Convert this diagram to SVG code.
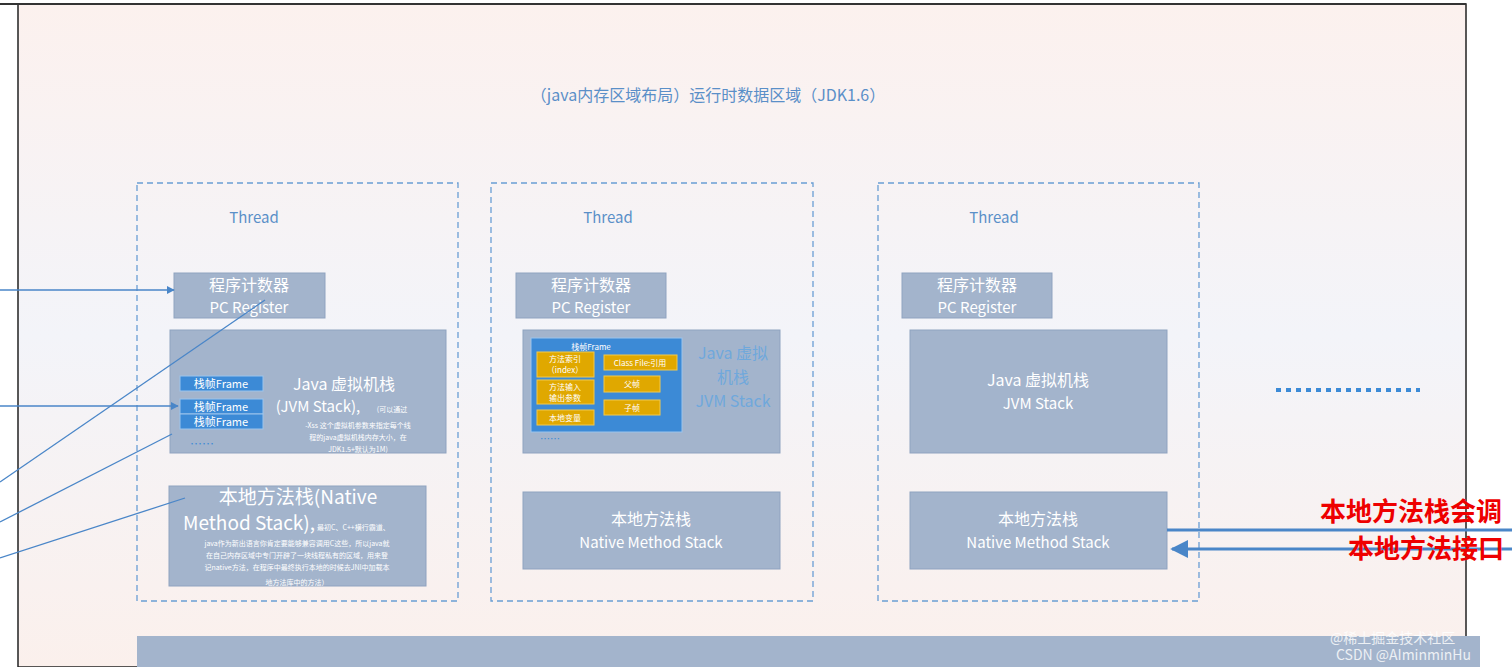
<svg xmlns="http://www.w3.org/2000/svg" width="1512" height="667" viewBox="0 0 1512 667">
<defs>
<linearGradient id="bg" x1="0" y1="0" x2="0" y2="1"><stop offset="0" stop-color="#fcf1ee"/><stop offset="0.5" stop-color="#f3f4f9"/><stop offset="1" stop-color="#fbf0ec"/></linearGradient>
<marker id="ah" viewBox="0 0 10 10" refX="9" refY="5" markerWidth="6" markerHeight="6" orient="auto"><path d="M0,0 L10,5 L0,10 z" fill="#4a86c8"/></marker>
<style>
.t{font-family:"Noto Sans CJK SC","Open Sans",sans-serif}
.thread{fill:none;stroke:#6a9ed4;stroke-width:1.3;stroke-dasharray:6,4}
.box{fill:#a3b4cc;stroke:#8fa3c0}
.w{fill:#fff}
.frm{fill:#3c8ad6;stroke:#9cc4ec}
.org{fill:#e0a800;stroke:#f2c94c}
.ln{stroke:#4a86c8;stroke-width:1.3;fill:none}
</style>
</defs>
<rect x="18" y="4" width="1448" height="663" fill="url(#bg)" stroke="#222" stroke-width="1.5"/>
<line x1="0" y1="4" x2="1466" y2="4" stroke="#333" stroke-width="2"/>
<text class="t" x="708" y="101" font-size="16" fill="#5a8fc8" text-anchor="middle">（java内存区域布局）运行时数据区域（JDK1.6）</text>
<g id="thread1">
<rect class="thread" x="137" y="183" width="321" height="418"/>
<text class="t" x="254" y="223" font-size="15" fill="#5a8fc8" text-anchor="middle">Thread</text>
</g>
<g id="thread2">
<rect class="thread" x="491" y="183" width="322" height="418"/>
<text class="t" x="608" y="223" font-size="15" fill="#5a8fc8" text-anchor="middle">Thread</text>
</g>
<g id="thread3">
<rect class="thread" x="878" y="183" width="321" height="418"/>
<text class="t" x="994" y="223" font-size="15" fill="#5a8fc8" text-anchor="middle">Thread</text>
</g>
<g id="pc1"><rect class="box" x="174" y="273" width="151" height="45"/>
<text class="t w" x="249" y="291" font-size="16" text-anchor="middle">程序计数器</text><text class="t w" x="249" y="313" font-size="15" text-anchor="middle">PC Register</text></g>
<g id="pc2"><rect class="box" x="516" y="273" width="150" height="45"/>
<text class="t w" x="591" y="291" font-size="16" text-anchor="middle">程序计数器</text><text class="t w" x="591" y="313" font-size="15" text-anchor="middle">PC Register</text></g>
<g id="pc3"><rect class="box" x="902" y="273" width="150" height="45"/>
<text class="t w" x="977" y="291" font-size="16" text-anchor="middle">程序计数器</text><text class="t w" x="977" y="313" font-size="15" text-anchor="middle">PC Register</text></g>
<g id="jvm1"><rect class="box" x="170" y="330" width="276" height="123"/>
<rect class="frm" x="180" y="376" width="83" height="15"/><text class="t w" x="221" y="388" font-size="11" text-anchor="middle">栈帧Frame</text>
<rect class="frm" x="180" y="399" width="83" height="15"/><text class="t w" x="221" y="411" font-size="11" text-anchor="middle">栈帧Frame</text>
<rect class="frm" x="180" y="414" width="83" height="15"/><text class="t w" x="221" y="426" font-size="11" text-anchor="middle">栈帧Frame</text>
<text class="t" x="190" y="449" font-size="12" fill="#3c8ad6">……</text>
<text class="t w" x="344" y="390" font-size="16" text-anchor="middle">Java 虚拟机栈</text>
<text class="t w" x="318" y="412" font-size="15" text-anchor="middle">(JVM Stack),</text>
<text class="t w" x="392" y="412" font-size="7" text-anchor="middle">(可以通过</text>
<text class="t w" x="358" y="428" font-size="7" text-anchor="middle">-Xss 这个虚拟机参数来指定每个线</text>
<text class="t w" x="358" y="440" font-size="7" text-anchor="middle">程的java虚拟机栈内存大小，在</text>
<text class="t w" x="358" y="452" font-size="7" text-anchor="middle">JDK1.5+默认为1M)</text></g>
<g id="jvm2"><rect class="box" x="523" y="330" width="257" height="123"/>
<rect class="frm" x="531" y="338" width="151" height="94"/>
<text class="t w" x="591" y="350" font-size="8" text-anchor="middle">栈帧Frame</text>
<rect class="org" x="537" y="352" width="57" height="25"/><text class="t w" x="565" y="362" font-size="8" text-anchor="middle">方法索引</text><text class="t w" x="565" y="373" font-size="8" text-anchor="middle">（index）</text>
<rect class="org" x="537" y="380" width="57" height="24"/><text class="t w" x="565" y="390" font-size="8" text-anchor="middle">方法输入</text><text class="t w" x="565" y="401" font-size="8" text-anchor="middle">输出参数</text>
<rect class="org" x="537" y="410" width="57" height="15"/><text class="t w" x="565" y="421" font-size="8" text-anchor="middle">本地变量</text>
<rect class="org" x="604" y="355" width="73" height="15"/><text class="t w" x="640" y="366" font-size="8" text-anchor="middle">Class File:引用</text>
<rect class="org" x="604" y="376" width="56" height="16"/><text class="t w" x="632" y="387" font-size="8" text-anchor="middle">父帧</text>
<rect class="org" x="604" y="400" width="56" height="15"/><text class="t w" x="632" y="411" font-size="8" text-anchor="middle">子帧</text>
<text class="t" x="540" y="443" font-size="10" fill="#3c8ad6">……</text>
<text class="t" x="733" y="359" font-size="16" fill="#6fa8dc" text-anchor="middle">Java 虚拟</text>
<text class="t" x="733" y="383" font-size="16" fill="#6fa8dc" text-anchor="middle">机栈</text>
<text class="t" x="733" y="407" font-size="16" fill="#6fa8dc" text-anchor="middle">JVM Stack</text></g>
<g id="jvm3"><rect class="box" x="910" y="330" width="257" height="123"/>
<text class="t w" x="1038" y="386" font-size="16" text-anchor="middle">Java 虚拟机栈</text>
<text class="t w" x="1038" y="409" font-size="15" text-anchor="middle">JVM Stack</text></g>
<g id="native1"><rect class="box" x="169" y="486" width="257" height="100"/>
<text class="t w" x="298" y="504" font-size="19" text-anchor="middle">本地方法栈(Native</text>
<text class="t w" x="249" y="530" font-size="19" text-anchor="middle">Method Stack),</text>
<text class="t w" x="317" y="530" font-size="7">最初C、C++横行霸道、</text>
<text class="t w" x="297" y="546" font-size="7" text-anchor="middle">java作为新出语言你肯定要能够兼容调用C这些，所以java就</text>
<text class="t w" x="297" y="558" font-size="7" text-anchor="middle">在自己内存区域中专门开辟了一块线程私有的区域，用来登</text>
<text class="t w" x="297" y="570" font-size="7" text-anchor="middle">记native方法，在程序中最终执行本地的时候去JNI中加载本</text>
<text class="t w" x="297" y="585" font-size="7" text-anchor="middle">地方法库中的方法）</text></g>
<g id="native2"><rect class="box" x="523" y="492" width="257" height="77"/>
<text class="t w" x="651" y="525" font-size="16" text-anchor="middle">本地方法栈</text>
<text class="t w" x="651" y="548" font-size="15" text-anchor="middle">Native Method Stack</text></g>
<g id="native3"><rect class="box" x="910" y="492" width="257" height="77"/>
<text class="t w" x="1038" y="525" font-size="16" text-anchor="middle">本地方法栈</text>
<text class="t w" x="1038" y="548" font-size="15" text-anchor="middle">Native Method Stack</text></g>
<g id="more"><line x1="1276" y1="390" x2="1420" y2="390" stroke="#3c8ad6" stroke-width="4" stroke-dasharray="5,5"/></g>
<g id="heap"><rect x="137" y="636" width="1343" height="40" fill="#a3b4cc"/></g>
<g id="connectors">
<line class="ln" x1="0" y1="290" x2="174" y2="290" marker-end="url(#ah)"/>
<line class="ln" x1="0" y1="406" x2="178" y2="406" marker-end="url(#ah)"/>
<line class="ln" x1="0" y1="482" x2="265" y2="300"/>
<line class="ln" x1="0" y1="522" x2="172" y2="434"/>
<line class="ln" x1="0" y1="558" x2="185" y2="498"/>
<line x1="1512" y1="530" x2="1167" y2="530" stroke="#4a86c8" stroke-width="3"/>
<line x1="1512" y1="549" x2="1172" y2="549" stroke="#4a86c8" stroke-width="3" marker-end="url(#ah)"/>
</g>
<text class="t" x="1320" y="521" font-size="26" font-weight="bold" fill="#e00">本地方法栈会调</text>
<text class="t" x="1348" y="558" font-size="26" font-weight="bold" fill="#e00">本地方法接口</text>
<text class="t" x="1330" y="643" font-size="14" fill="#fff" opacity="0.8">@稀土掘金技术社区</text>
<text class="t" x="1336" y="660" font-size="14" fill="#fff" opacity="0.8">CSDN @AIminminHu</text>
</svg>
